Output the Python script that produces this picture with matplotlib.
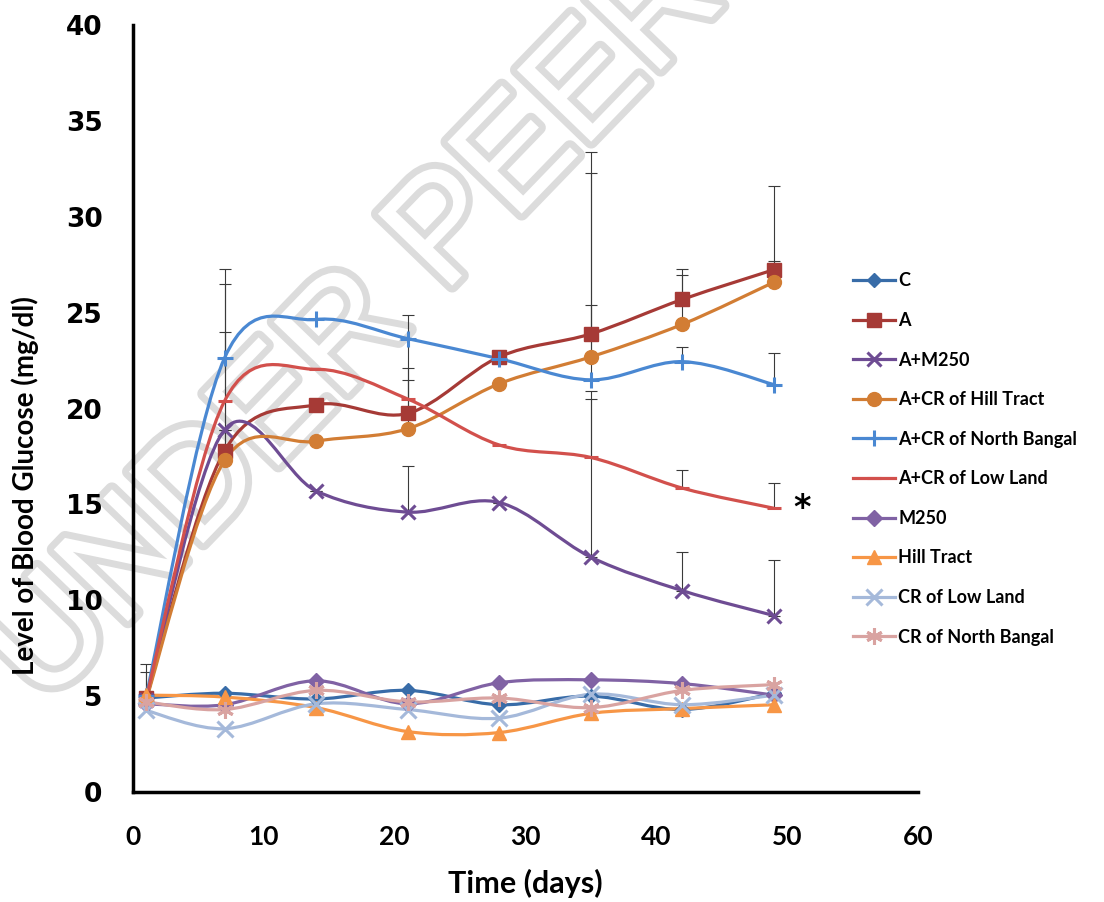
import numpy as np
import matplotlib
matplotlib.use('Agg')
import matplotlib.pyplot as plt
import matplotlib.patheffects as pe
from matplotlib.path import Path
from matplotlib.patches import PathPatch
from matplotlib.lines import Line2D


# Blood glucose over time, one list per group
days = [1, 7, 14, 21, 28, 35, 42, 49]

c_vals = [4.9, 5.15, 4.85, 5.3, 4.55, 5.0, 4.3, 5.15]
a_vals = [4.9, 17.8, 20.2, 19.75, 22.7, 23.9, 25.7, 27.25]
a_m250 = [4.8, 18.9, 15.7, 14.6, 15.1, 12.25, 10.5, 9.2]
a_cr_hill = [4.8, 17.3, 18.3, 18.95, 21.3, 22.7, 24.4, 26.6]
a_cr_north = [5.0, 22.65, 24.65, 23.65, 22.6, 21.5, 22.45, 21.25]
a_cr_low = [4.9, 20.4, 22.05, 20.5, 18.1, 17.45, 15.85, 14.8]
m250 = [4.6, 4.55, 5.8, 4.6, 5.7, 5.85, 5.65, 5.05]
hill = [5.05, 4.95, 4.4, 3.15, 3.1, 4.1, 4.35, 4.55]
cr_low = [4.25, 3.3, 4.6, 4.3, 3.85, 5.1, 4.55, 5.05]
cr_north = [4.7, 4.3, 5.3, 4.7, 4.9, 4.4, 5.3, 5.6]

# upper error bars
err_a = [1.35, 9.5, 0, 5.15, 0, 9.5, 1.6, 4.35]
err_a_m250 = [0, 0, 0, 2.4, 0, 8.25, 2.0, 2.9]
err_a_cr_hill = [0, 9.2, 0, 3.15, 0, 9.6, 2.55, 1.1]
err_a_cr_north = [1.7, 1.35, 0, 0, 0, 3.9, 0.75, 1.65]
err_a_cr_low = [0, 0, 0, 1.0, 0, 3.45, 0.95, 1.3]

labels = ['C', 'A', 'A+M250', 'A+CR of Hill Tract', 'A+CR of North Bangal',
          'A+CR of Low Land', 'M250', 'Hill Tract', 'CR of Low Land', 'CR of North Bangal']
series = [c_vals, a_vals, a_m250, a_cr_hill, a_cr_north, a_cr_low, m250, hill, cr_low, cr_north]
errors = [None, err_a, err_a_m250, err_a_cr_hill, err_a_cr_north, err_a_cr_low,
          None, None, None, None]
colors = ['#386CA8', '#A63A36', '#6E4C93', '#D27D34', '#4A88D2', '#D2504C',
          '#8062A4', '#F79646', '#A5B9DA', '#D9A3A1']
markers = ['D', 's', 'x', 'o', '+', '_', 'D', '^', 'x', (6, 2, 0)]
sizes = [7, 10, 10, 10, 12, 10, 8, 10, 12, 12]


def smooth_path(xs, ys):
    # Excel-style smoothed line (Catmull-Rom as cubic Bezier)
    pts = np.column_stack([xs, ys]).astype(float)
    n = len(pts)
    verts = [pts[0]]
    codes = [Path.MOVETO]
    for i in range(n - 1):
        p0 = pts[max(i - 1, 0)]
        p1 = pts[i]
        p2 = pts[i + 1]
        p3 = pts[min(i + 2, n - 1)]
        verts += [p1 + (p2 - p0) / 6, p2 - (p3 - p1) / 6, p2]
        codes += [Path.CURVE4] * 3
    return Path(verts, codes)


fig = plt.figure(figsize=(11.04, 9.02), dpi=100)
ax = fig.add_axes([0.1205, 0.122, 0.711, 0.850])
ax.patch.set_facecolor('none')

# watermark (hollow grey letters, behind everything)
fig.text(0.04, 0.215, 'UNDER PEER REVIEW', fontsize=108, color='white',
         family=['Liberation Sans Narrow', 'Liberation Sans'], rotation=46,
         rotation_mode='anchor', ha='left', va='baseline', zorder=-1,
         path_effects=[pe.withStroke(linewidth=10, foreground='#dcdcdc')])

for vals, err, col in zip(series, errors, colors):
    if err is not None:
        ax.errorbar(days, vals, yerr=[np.zeros(len(err)), err], fmt='none',
                    ecolor='#3a3a3a', elinewidth=0.8, capsize=4, capthick=0.8, zorder=2)

handles = []
for vals, col, mk, ms, lab in zip(series, colors, markers, sizes, labels):
    ax.add_patch(PathPatch(smooth_path(days, vals), fill=False, edgecolor=col, lw=2.3, zorder=3))
    mew = 2.2 if mk in ('x', '+', '_', (6, 2, 0)) else 1
    ax.plot(days, vals, linestyle='none', marker=mk, ms=ms, color=col, mew=mew, zorder=4)
    handles.append(Line2D([0], [0], color=col, lw=2.3, marker=mk, ms=ms, mew=mew, label=lab))

ax.set_xlim(0, 60)
ax.set_ylim(0, 40)
ax.set_xticks([0, 10, 20, 30, 40, 50, 60])
ax.set_yticks([0, 5, 10, 15, 20, 25, 30, 35, 40])
ax.tick_params(length=0)
ax.tick_params(axis='y', pad=22)
ax.tick_params(axis='x', pad=24)
for t in ax.get_yticklabels():
    t.set_fontfamily('DejaVu Sans')
    t.set_fontweight('bold')
    t.set_fontsize(19)
for t in ax.get_xticklabels():
    t.set_fontfamily('Lato')
    t.set_fontweight('bold')
    t.set_fontsize(19)

ax.spines['top'].set_visible(False)
ax.spines['right'].set_visible(False)
ax.spines['left'].set_linewidth(2.5)
ax.spines['bottom'].set_linewidth(2.5)

ax.set_xlabel('Time (days)', fontsize=22, fontweight='bold', family='Lato')
ax.xaxis.set_label_coords(0.5, -0.1)
ax.set_ylabel('Level of Blood Glucose (mg/dl)', fontsize=20, fontweight='bold', family='Lato')
ax.yaxis.set_label_coords(-0.12, 0.4)

ax.text(50.5, 14.8, '*', fontsize=24, fontweight='bold', ha='left', va='center')

leg = fig.legend(handles=handles, loc='upper left', bbox_to_anchor=(0.758, 0.716),
                 frameon=False, handlelength=2.3, handletextpad=0.2,
                 labelspacing=1.25, prop={'family': 'Lato', 'weight': 'bold', 'size': 13})

fig.savefig('out.png', dpi=100)
